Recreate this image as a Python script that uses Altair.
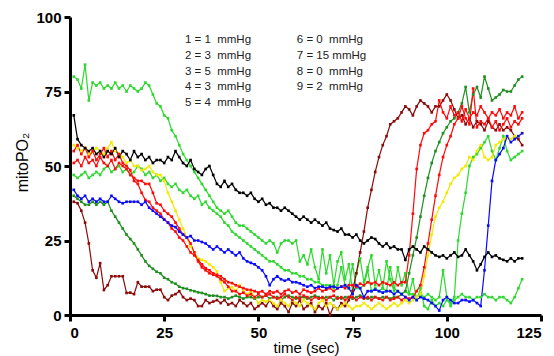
import altair as alt
import pandas as pd

t = list(range(1, 121))

black = [67, 59, 57, 56, 55, 56, 54, 55, 53, 55,
         54, 56, 53, 55, 54, 52, 55, 53, 54, 52,
         53, 51, 52, 52, 51, 53, 52, 55, 53, 51,
         50, 52, 49, 48, 47, 49, 50, 47, 44, 43,
         45, 43, 44, 42, 41, 41, 40, 41, 39, 38,
         39, 37, 37.5, 36, 36, 35, 36, 35, 34, 33,
         32, 33, 32, 31, 32, 31, 30, 31, 29, 28.5,
         28, 29, 27, 27, 26, 27, 25, 24, 25, 26,
         25.5, 24, 23, 24, 22.5, 23, 22, 22, 18.5, 22,
         23, 22, 21, 23, 22, 21, 20, 19.5, 20, 19,
         20, 21, 19.5, 20, 22, 20, 18, 15, 17, 19.5,
         21, 19.5, 20, 19, 18.5, 18, 19, 18, 19, 19]

lime1 = [80, 79, 76, 84, 72, 78, 77, 78, 76, 77,
         76, 78, 76, 77, 75, 77, 76, 75, 76, 78,
         77, 74, 71, 70, 67, 66, 62, 60, 57, 54,
         52, 50, 48, 46, 44, 42, 40, 38, 36, 35,
         34, 35, 33, 31, 30, 30, 29, 28, 27, 26,
         25, 24, 25, 24, 21, 24, 25, 25, 24, 25,
         18, 20, 17, 22, 16, 12, 22, 14, 20, 10,
         18, 21, 12, 17, 8, 14, 19, 11, 16, 20,
         10, 15, 9, 18, 12, 8, 16, 10, 14, 7,
         12, 5, 9, 3, 2, 5, 3, 4, 3, 5,
         4, 6, 25, 34, 41, 50, 53, 54, 56, 58,
         60, 55, 52, 56, 60, 55, 52, 53, 54, 55]

lime2 = [47, 46, 47, 48, 46, 47, 48, 47, 49, 50,
         48, 49, 50, 48, 49, 47, 48, 50, 49, 47,
         48, 46, 47, 45, 46, 44, 43, 44, 42, 41,
         42, 40, 39, 40, 37, 38, 36, 35, 34, 33,
         31, 30, 28, 27, 26, 25, 24, 23, 22, 21,
         20, 19, 18, 18, 17, 16, 15, 15, 14, 14,
         13, 13, 12, 12, 11, 11, 10, 10, 10, 9,
         10, 16, 10, 9, 17, 9, 9, 10, 15, 8,
         9, 8, 9, 8, 16, 9, 8, 7, 8, 7,
         7, 6, 7, 6, 7, 6, 5, 6, 15, 6,
         3, 5, 6, 7, 6, 6, 5, 6, 6, 7,
         6, 6, 5, 6, 6, 5, 4, 6, 9, 12]

dkgreen = [40, 39, 38, 37, 37, 38, 37, 38, 37, 38,
           35, 33, 31, 29, 27, 25.5, 24, 22, 20, 18,
           16.5, 15.5, 14.5, 14, 12.5, 12, 11, 10.5, 9.5, 9,
           8.8, 8.3, 8, 7.6, 7.4, 7, 6.5, 6.5, 6.4, 6,
           6, 5.5, 6, 6.5, 6, 5.5, 6, 6, 5.5, 6,
           6, 6.5, 5.5, 6, 6, 5, 6, 6.5, 6, 5.5,
           6, 6, 5.5, 6, 6.5, 6, 5.5, 6, 6, 5,
           6, 5.5, 6, 6, 5.5, 6, 6.5, 6, 5.5, 6,
           6, 5.5, 6, 6, 5.5, 6, 6, 7, 8, 14,
           20, 26, 33, 40, 46, 51, 55, 58, 61, 63,
           65, 66, 68, 71, 76.5, 68, 74, 76.5, 73, 80,
           76, 72, 73, 74, 75.5, 75, 75, 77, 79, 80]

maroon = [38, 37.5, 35, 31, 24, 15, 12.5, 17.4, 8.4, 10,
          13, 13, 13, 13, 7.4, 7.5, 7, 11, 9.5, 9.5,
          9.5, 8, 8.5, 8.5, 6, 5, 6.5, 7, 8, 6,
          5, 5.5, 5, 3, 3, 5, 4, 4.5, 5, 4,
          5, 3.5, 4, 3, 5, 4, 3, 4, 2, 3,
          4, 3, 5, 3, 2, 4, 3, 1, 4, 3,
          5, 2, 3, 4, 1, 3, 2, 4, 0, 3,
          2, 4, 3, 5, 8, 14, 21, 28, 36, 42,
          48, 53, 57, 60, 64, 65, 66, 68, 70, 69,
          67, 70, 72, 71, 70, 68, 70, 70, 72, 74,
          72, 69, 66, 67, 64, 66, 63, 65, 64, 62,
          65, 63, 62, 64, 62, 63, 62, 60, 59, 57]

yellow = [57, 56, 55, 56, 54, 55, 56, 55, 54, 56,
          58, 55, 54, 53, 51, 52, 50, 50, 48.6, 49,
          50, 48, 47, 47, 45, 41, 38, 35, 32, 29,
          26, 23, 21, 19, 18.5, 18, 17, 16, 14.6, 11,
          8, 9, 9.4, 8, 10, 8, 7, 8, 6, 4,
          5, 4.5, 5, 4, 3, 5, 4, 3, 5, 4,
          3, 5, 4, 3, 2, 4, 5, 3, 4, 3,
          2, 3, 4, 3, 2, 3, 3, 4, 3, 2,
          3, 4, 3, 2, 3, 4, 3, 4, 5, 4,
          5, 6, 7, 13, 20, 27, 33, 36, 38, 41,
          44, 46, 47, 49, 50, 53, 52, 55, 57, 53,
          52, 53, 57, 58, 59, 60, 59, 60, 60, 61]

blue = [42, 40, 39, 40, 38, 39, 38, 39, 38, 38,
        40, 39, 38, 37.5, 38, 38, 38, 38, 37, 38,
        36, 35, 34, 33, 32, 31, 30, 29.5, 28, 27,
        26, 26.5, 25, 25, 24.5, 24, 23, 22, 23, 22,
        21, 22, 21, 20, 21, 19, 18, 17.5, 17, 16,
        15, 13, 10, 12, 13, 12, 11.5, 12, 11, 11,
        10.6, 10, 9.5, 10, 9, 9.5, 9.5, 9, 9.5, 9.5,
        9, 9.5, 10, 9, 7, 10, 9, 6, 8, 8,
        8.5, 8, 7.5, 8, 8, 7, 8, 7, 6, 5,
        6, 5, 6, 5.5, 5, 4, 3, 1.5, 5, 6,
        5, 4, 4, 5, 5, 4.5, 5, 4, 3, 15,
        30, 45, 52, 54, 56, 60, 58, 59, 60, 61]

red1 = [55, 57, 54, 56, 53, 55, 52, 54, 56, 53,
        55, 52, 54, 51, 50, 48.6, 45, 44, 41, 38.6,
        38, 36, 35, 34, 32, 31, 29, 28, 26, 25,
        23, 21, 20, 18.5, 17, 15.7, 15, 14, 13.5, 13,
        12, 11, 10.7, 10, 9.5, 9, 8.5, 8.4, 8, 7.5,
        8, 7, 8, 7.5, 8, 7, 8, 8.5, 7.5, 8,
        7, 8.5, 8, 7.5, 8, 9, 8, 8.5, 9, 8,
        9, 9.5, 9, 10, 10, 9.5, 10.5, 10, 11, 10.5,
        11, 10, 11, 10.5, 10, 11, 10, 11, 11, 20,
        34, 49, 57, 61, 62, 64, 65, 72, 68, 66,
        70, 67, 68, 65, 69, 66, 68, 67, 70, 68,
        66, 68, 67, 69, 66, 68, 67, 70, 66, 68]

red2 = [51, 52, 50, 53, 51, 52, 50, 53, 51, 50,
        52, 49, 51, 50, 49, 47, 46, 45, 45, 44,
        44, 41, 37.5, 37, 35, 34, 33, 31, 29, 27,
        26, 24, 21, 18, 16, 15, 14, 13.5, 13, 12,
        11, 9.5, 8, 8, 7, 7.5, 6.5, 7, 6, 7,
        6, 6.5, 7, 6, 5.5, 6, 7, 6, 5, 6,
        5.5, 6.5, 6, 5, 6, 5.5, 6, 5, 6, 6.5,
        5.5, 6, 5, 6, 6, 5, 6, 5.5, 6, 5,
        6, 5.5, 5, 6, 5, 5.5, 6, 5, 6, 5.5,
        6, 8, 10, 16, 24, 32, 40, 47, 53, 57,
        60, 64, 66, 70, 66, 64, 76, 63, 65, 64,
        66, 63, 65, 62, 64, 66, 63, 65, 64, 66]

series_names = ["lime1", "lime2", "dkgreen", "maroon", "yellow", "red1", "red2", "blue", "black"]
series_values = [lime1, lime2, dkgreen, maroon, yellow, red1, red2, blue, black]
series_colors = ["#2ed82e", "#2ed82e", "#1f8f1f", "#8b0a0a", "#f2ea00", "#ff0a0a", "#ff0a0a", "#0a0aff", "#000000"]

NB = "\u00a0"
legend_col1 = ["1 = 1" + NB + " mmHg", "2 = 3" + NB + " mmHg", "3 = 5" + NB + " mmHg",
               "4 = 3" + NB + " mmHg", "5 = 4" + NB + " mmHg"]
legend_col2 = ["6 = 0" + NB + " mmHg", "7 = 15 mmHg", "8 = 0" + NB + " mmHg", "9 = 2" + NB + " mmHg"]

rows = []
for i, (name, vals) in enumerate(zip(series_names, series_values)):
    for tt, vv in zip(t, vals):
        rows.append({"series": name, "order": i, "t": tt, "v": vv})
df = pd.DataFrame(rows)

leg_rows = []
for j, lab in enumerate(legend_col1):
    leg_rows.append({"label": lab, "lx": 30.5, "ly": 92.3 - j * 5.3})
for j, lab in enumerate(legend_col2):
    leg_rows.append({"label": lab, "lx": 60.2, "ly": 92.3 - j * 5.3})
leg = pd.DataFrame(leg_rows)

FONT = "Liberation Sans, Arial, Helvetica, sans-serif"

x_enc = alt.X("t:Q", scale=alt.Scale(domain=[0, 125], nice=False),
              axis=alt.Axis(values=[0, 25, 50, 75, 100, 125], title="time (sec)",
                            labelPadding=4, titleX=236, titleY=32,
                            titleBaseline="middle", titleAlign="center"))
y_enc = alt.Y("v:Q", scale=alt.Scale(domain=[0, 100], nice=False),
              axis=alt.Axis(values=[0, 25, 50, 75, 100], title="mitoPO₂",
                            labelPadding=3, titleX=-48, titleY=145, titleFontSize=16,
                            titleAngle=-90, titleBaseline="middle", titleAlign="center"))

lines = alt.Chart(df).mark_line(
    strokeWidth=1.2,
    point=alt.OverlayMarkDef(filled=True, shape="square", size=7),
).encode(
    x=x_enc,
    y=y_enc,
    color=alt.Color("series:N", scale=alt.Scale(domain=series_names, range=series_colors), legend=None),
    detail="series:N",
    order=alt.Order("t:Q"),
)

texts = alt.Chart(leg).mark_text(
    align="left", baseline="middle", fontSize=11.5, font=FONT, color="#222222"
).encode(
    x=alt.X("lx:Q", scale=alt.Scale(domain=[0, 125], nice=False)),
    y=alt.Y("ly:Q", scale=alt.Scale(domain=[0, 100], nice=False)),
    text="label:N",
)

chart = alt.layer(lines, texts).properties(
    width=471, height=298,
    autosize=alt.AutoSizeParams(type="none"),
    padding={"left": 70, "top": 17, "right": 13, "bottom": 41},
    background="white",
).configure_view(stroke=None).configure_axis(
    grid=False,
    domainColor="black", domainWidth=3,
    tickColor="black", tickWidth=3, tickSize=6,
    labelFont=FONT, labelFontSize=15, labelFontWeight="bold", labelColor="black",
    titleFont=FONT, titleFontSize=15, titleFontWeight="normal", titleColor="black",
)

chart.save("out.html", embed_options={"renderer": "svg", "actions": False})
